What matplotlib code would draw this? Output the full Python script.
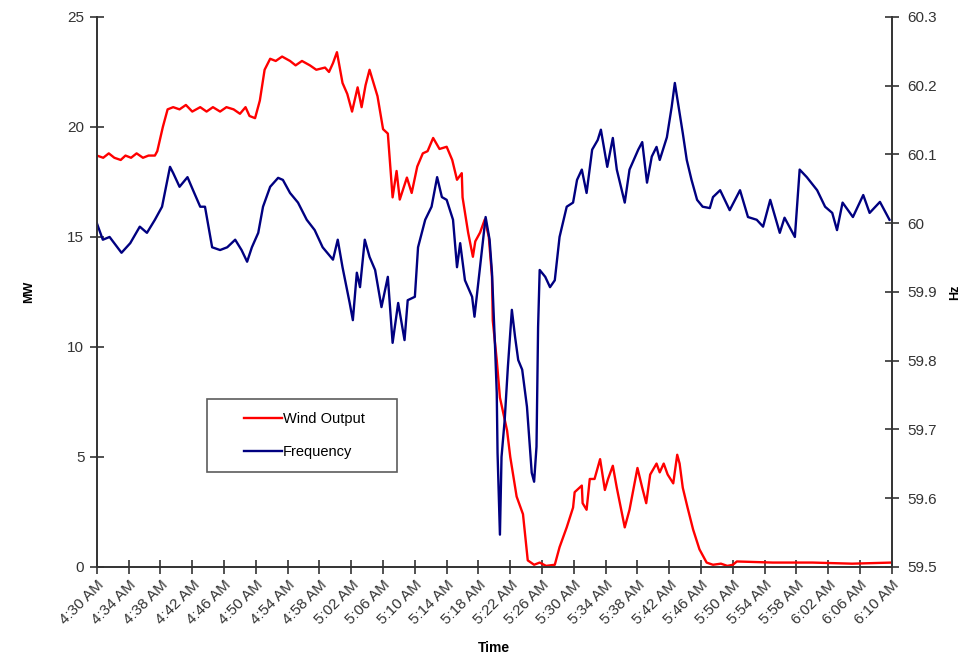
import matplotlib
matplotlib.use("Agg")
import matplotlib.pyplot as plt
from matplotlib.lines import Line2D
from matplotlib.legend_handler import HandlerLine2D

plt.rcParams['font.family'] = ['Liberation Sans', 'DejaVu Sans']

# minutes after 4:30 AM, wind output in MW
wind_t = [0, 0.8, 1.5, 2.2, 3.0, 3.6, 4.3, 5.0, 5.8, 6.5, 7.3, 7.6, 8.3, 8.9, 9.6,
          10.4, 11.2, 12.0, 13.0, 13.8, 14.6, 15.5, 16.3, 17.2, 18.0, 18.7, 19.2, 19.9,
          20.5, 21.1, 21.8, 22.5, 23.3, 24.3, 25.0, 25.8, 26.8, 27.6, 28.7, 29.2, 29.7,
          30.2, 30.9, 31.5, 32.1, 32.8, 33.3, 33.8, 34.3, 35.3, 36.0, 36.6, 37.2, 37.7,
          38.1, 39.0, 39.6, 40.3, 41.0, 41.6, 42.3, 43.1, 44.0, 44.7, 45.3, 45.9, 46.0,
          46.7, 47.3, 47.6, 48.2, 48.8, 49.3, 49.7, 49.8, 50.3, 50.7, 51.6, 52.0, 52.8,
          53.6, 54.2, 55.0, 55.7, 56.5, 57.6, 58.2, 59.1, 59.9, 60.1, 61.0, 61.1, 61.6,
          62.0, 62.6, 63.3, 63.9, 64.3, 64.9, 65.4, 66.4, 67.0, 68.0, 68.6, 69.1, 69.6,
          70.4, 70.8, 71.3, 71.8, 72.5, 73.0, 73.3, 73.7, 74.3, 75.0, 75.8, 76.7, 77.5,
          78.5, 79.3, 80.0, 80.5, 85.0, 90.0, 95.0, 100]
wind_mw = [18.7, 18.6, 18.8, 18.6, 18.5, 18.7, 18.6, 18.8, 18.6, 18.7, 18.7, 18.9, 20.0, 20.8, 20.9,
           20.8, 21.0, 20.7, 20.9, 20.7, 20.9, 20.7, 20.9, 20.8, 20.6, 20.9, 20.5, 20.4,
           21.2, 22.6, 23.1, 23.0, 23.2, 23.0, 22.8, 23.0, 22.8, 22.6, 22.7, 22.5, 22.9,
           23.4, 22.0, 21.5, 20.7, 21.8, 20.9, 21.9, 22.6, 21.4, 19.9, 19.7, 16.8, 18.0,
           16.7, 17.7, 17.0, 18.2, 18.8, 18.9, 19.5, 19.0, 19.1, 18.5, 17.6, 17.9, 16.8,
           15.2, 14.1, 14.8, 15.2, 15.8, 15.0, 13.2, 11.2, 9.4, 7.7, 6.2, 5.0, 3.2,
           2.4, 0.3, 0.1, 0.2, 0.05, 0.1, 0.9, 1.8, 2.7, 3.4, 3.7, 2.9, 2.6,
           4.0, 4.0, 4.9, 3.5, 4.0, 4.6, 3.6, 1.8, 2.6, 4.5, 3.6, 2.9, 4.2,
           4.7, 4.3, 4.7, 4.2, 3.8, 5.1, 4.7, 3.6, 2.7, 1.7, 0.8, 0.2, 0.1,
           0.15, 0.05, 0.1, 0.25, 0.2, 0.2, 0.15, 0.2]

# minutes after 4:30 AM, grid frequency in Hz
freq_t = [0, 0.75, 1.6, 3.1, 4.2, 5.4, 6.3, 7.3, 8.2, 9.2, 9.6, 10.4, 11.4, 12.1, 13.0,
          13.6, 14.5, 15.5, 16.4, 17.4, 18.2, 18.9, 19.5, 20.3, 20.9, 21.8, 22.8, 23.4,
          24.3, 25.3, 26.4, 27.4, 28.4, 29.7, 30.3, 30.9, 31.8, 32.2, 32.7, 33.1, 33.7,
          34.3, 35.0, 35.8, 36.6, 37.2, 37.9, 38.7, 39.1, 40.0, 40.4, 41.3, 42.1, 42.8,
          43.4, 44.0, 44.8, 45.3, 45.7, 46.3, 47.2, 47.5, 48.2, 48.9, 49.4, 49.7, 50.1,
          50.3, 50.4, 50.7, 50.9, 51.3, 51.7, 52.2, 52.6, 53.0, 53.5, 54.1, 54.7, 55.0,
          55.3, 55.5, 55.7, 56.4, 57.0, 57.6, 58.2, 59.1, 59.9, 60.4, 61.0, 61.6, 62.3,
          63.0, 63.4, 64.2, 64.9, 65.4, 66.4, 67.0, 68.1, 68.6, 69.2, 69.8, 70.4, 70.8,
          71.7, 72.3, 72.7, 73.1, 73.7, 74.2, 74.8, 75.5, 76.2, 77.1, 77.5, 78.4, 79.6,
          80.9, 81.9, 83.0, 83.8, 84.7, 85.9, 86.5, 87.8, 88.4, 89.3, 90.6, 91.6, 92.5,
          93.1, 93.8, 95.1, 96.4, 97.2, 98.5, 99.7]
freq_hz = [60.0, 59.976, 59.98, 59.957, 59.971, 59.995, 59.986, 60.005, 60.024, 60.082, 60.073,
           60.053, 60.067, 60.048, 60.024, 60.024, 59.965, 59.961, 59.965, 59.976, 59.961,
           59.944, 59.965, 59.986, 60.024, 60.053, 60.066, 60.063, 60.044, 60.03, 60.005,
           59.99, 59.965, 59.947, 59.976, 59.936, 59.884, 59.859, 59.928, 59.907, 59.976,
           59.951, 59.932, 59.878, 59.922, 59.826, 59.884, 59.83, 59.888, 59.893, 59.965,
           60.005, 60.024, 60.067, 60.038, 60.034, 60.005, 59.936, 59.971, 59.917, 59.893,
           59.864, 59.936, 60.009, 59.976, 59.928, 59.816, 59.753, 59.666, 59.547, 59.66,
           59.714, 59.791, 59.874, 59.835, 59.801, 59.787, 59.733, 59.637, 59.624, 59.675,
           59.849, 59.932, 59.922, 59.907, 59.917, 59.98, 60.024, 60.03, 60.063, 60.078,
           60.044, 60.107, 60.121, 60.136, 60.082, 60.124, 60.078, 60.03, 60.078, 60.107,
           60.118, 60.059, 60.097, 60.111, 60.092, 60.125, 60.169, 60.204, 60.175, 60.131,
           60.092, 60.063, 60.034, 60.024, 60.022, 60.038, 60.048, 60.019, 60.048, 60.009,
           60.005, 59.995, 60.034, 59.986, 60.008, 59.98, 60.078, 60.067, 60.048, 60.024,
           60.015, 59.99, 60.03, 60.009, 60.041, 60.015, 60.031, 60.005]

time_labels = ['4:30 AM', '4:34 AM', '4:38 AM', '4:42 AM', '4:46 AM', '4:50 AM', '4:54 AM',
               '4:58 AM', '5:02 AM', '5:06 AM', '5:10 AM', '5:14 AM', '5:18 AM', '5:22 AM',
               '5:26 AM', '5:30 AM', '5:34 AM', '5:38 AM', '5:42 AM', '5:46 AM', '5:50 AM',
               '5:54 AM', '5:58 AM', '6:02 AM', '6:06 AM', '6:10 AM']
mw_ticks = [0, 5, 10, 15, 20, 25]
hz_ticks = [59.5, 59.6, 59.7, 59.8, 59.9, 60, 60.1, 60.2, 60.3]
hz_labels = ['59.5', '59.6', '59.7', '59.8', '59.9', '60', '60.1', '60.2', '60.3']

fig = plt.figure(figsize=(9.59, 6.55), dpi=100)
ax = fig.add_axes([0.101, 0.1344, 0.829, 0.8397])
ax2 = ax.twinx()

l1, = ax.plot(wind_t, wind_mw, color='#ff0000', lw=1.7, label='Wind Output')
l2, = ax2.plot(freq_t, freq_hz, color='#000080', lw=1.7, label='Frequency')

ax.set_xlim(0, 100)
ax.set_ylim(0, 25)
ax2.set_ylim(59.5, 60.3)

ax.set_xticks(range(0, 101, 4))
ax.set_xticklabels(time_labels, rotation=45, ha='right', rotation_mode='anchor')
ax.set_yticks(mw_ticks)
ax2.set_yticks(hz_ticks)
ax2.set_yticklabels(hz_labels)

for a in (ax, ax2):
    a.spines['top'].set_visible(False)
    for s in ('left', 'right', 'bottom'):
        a.spines[s].set_color('#333333')
        a.spines[s].set_linewidth(1.2)
    a.tick_params(direction='inout', length=10, width=1.2, color='#333333',
                  labelsize=11, labelcolor='#333333')
ax.tick_params(axis='x', pad=3)
ax.tick_params(axis='y', pad=4)
ax2.tick_params(axis='y', pad=6)

ax.set_ylabel('MW', fontsize=9, fontweight='bold')
ax.yaxis.set_label_coords(-0.078, 0.5)
ax2.set_ylabel('Hz', fontsize=9, fontweight='bold', rotation=90, va='center')
ax2.yaxis.set_label_coords(1.079, 0.5)
ax.set_xlabel('Time', fontsize=10, fontweight='bold', labelpad=10)

# legend: short handle lines indented from the box edge
leg = ax2.legend(handles=[l1, l2], loc='lower left',
                 bbox_to_anchor=(0.138, 0.173, 0.239, 0.135), mode='expand',
                 borderaxespad=0, fontsize=10.5, frameon=True, fancybox=False,
                 handlelength=4.3, handletextpad=0.05, labelspacing=1.3,
                 borderpad=0.88, handler_map={Line2D: HandlerLine2D(xpad=1.68)})
leg.get_frame().set_edgecolor('#333333')
leg.get_frame().set_linewidth(1.2)

fig.savefig('out.png', dpi=100)
